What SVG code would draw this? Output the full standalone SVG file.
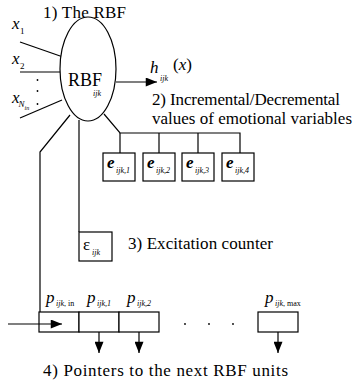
<svg xmlns="http://www.w3.org/2000/svg" width="354" height="387" viewBox="0 0 354 387">
  <defs>
    <marker id="arrow" viewBox="0 0 10 8" refX="10" refY="4" markerWidth="13" markerHeight="9" markerUnits="userSpaceOnUse" orient="auto">
      <path d="M0,0 L10,4 L0,8 Z" fill="#000"/>
    </marker>
    <style>
      text { font-family: "Liberation Serif", "Times New Roman", serif; fill: #000; }
      .lbl { font-size: 17px; }
      .big { font-size: 18px; }
      .it { font-style: italic; }
      .sub { font-size: 8px; font-style: italic; }
      .sub9 { font-size: 9px; }
      .tiny { font-size: 6px; font-style: italic; }
      .up { font-style: normal; }
      .bi { font-style: italic; font-weight: bold; }
      .box { fill: #fff; stroke: #000; stroke-width: 1.2; }
      .open { fill: none; stroke: #000; stroke-width: 1.2; }
      .wire { fill: none; stroke: #000; stroke-width: 1.2; }
    </style>
  </defs>
  <rect width="354" height="387" fill="#fff"/>

  <!-- connectors -->
  <g id="connectors" class="wire">
    <line x1="20" y1="42" x2="63" y2="57"/>
    <line x1="20" y1="72" x2="60" y2="72"/>
    <line x1="20" y1="118" x2="62" y2="100"/>
    <line x1="116" y1="82" x2="157" y2="82" marker-end="url(#arrow)"/>
    <!-- fan-out to the emotional variables -->
    <polyline points="104,114 120,133 240,133 240,153"/>
    <line x1="120" y1="133" x2="120" y2="153"/>
    <line x1="159" y1="133" x2="159" y2="153"/>
    <line x1="198" y1="133" x2="198" y2="153"/>
    <!-- excitation counter link -->
    <line x1="79" y1="120" x2="79" y2="232"/>
    <!-- pointer list link -->
    <polyline points="70,115 40,152 40,312"/>
    <line x1="8" y1="324" x2="62" y2="324" marker-end="url(#arrow)"/>
    <line x1="99" y1="324" x2="99" y2="353" marker-end="url(#arrow)"/>
    <line x1="139" y1="324" x2="139" y2="353" marker-end="url(#arrow)"/>
    <line x1="278" y1="324" x2="278" y2="353" marker-end="url(#arrow)"/>
  </g>

  <!-- inputs -->
  <g id="inputs">
    <text x="12" y="29" class="lbl it">x</text><text x="20" y="34" class="sub9 up">1</text>
    <text x="12" y="64" class="lbl it">x</text><text x="20" y="69" class="sub9 up">2</text>
    <text x="12" y="103" class="lbl it">x</text><text x="18.5" y="107" class="sub sub9">N</text><text x="24.5" y="110" class="tiny">in</text>
    <circle cx="37.5" cy="80" r="0.9"/>
    <circle cx="37.5" cy="91" r="0.9"/>
    <circle cx="37.5" cy="104" r="0.9"/>
  </g>

  <!-- RBF unit -->
  <g id="rbf">
    <text x="43" y="18" class="lbl" textLength="83" lengthAdjust="spacing">1) The RBF</text>
    <ellipse cx="88" cy="69" rx="28" ry="52" class="box"/>
    <text x="68" y="86" class="big">RBF</text>
    <text x="93" y="96" class="sub">ijk</text>
  </g>

  <!-- output -->
  <g id="output">
    <text x="150" y="73" class="lbl it">h</text>
    <text x="160" y="81" class="sub">ijk</text>
    <text x="173" y="70" class="lbl">(<tspan class="it">x</tspan>)</text>
  </g>

  <!-- emotional variables -->
  <g id="emotional">
    <text x="152" y="105" class="lbl" textLength="188" lengthAdjust="spacing">2) Incremental/Decremental</text>
    <text x="152" y="123.5" class="lbl" textLength="200" lengthAdjust="spacing">values of emotional variables</text>
  </g>
  <g id="e1">
    <rect x="103" y="153" width="32" height="28" class="box"/>
    <text x="107" y="168" class="lbl bi">e</text><text x="116" y="173" class="sub">ijk,1</text>
  </g>
  <g id="e2">
    <rect x="143" y="153" width="32" height="28" class="box"/>
    <text x="147" y="168" class="lbl bi">e</text><text x="156" y="173" class="sub">ijk,2</text>
  </g>
  <g id="e3">
    <rect x="182" y="153" width="32" height="28" class="box"/>
    <text x="186" y="168" class="lbl bi">e</text><text x="195" y="173" class="sub">ijk,3</text>
  </g>
  <g id="e4">
    <rect x="222" y="153" width="32" height="28" class="box"/>
    <text x="226" y="168" class="lbl bi">e</text><text x="235" y="173" class="sub">ijk,4</text>
  </g>

  <!-- excitation counter -->
  <g id="counter">
    <rect x="79" y="232" width="33" height="29" class="box"/>
    <text x="83" y="250" class="lbl">ε</text>
    <text x="92" y="255" class="sub">ijk</text>
    <text x="128" y="249" class="lbl" textLength="145" lengthAdjust="spacing">3) Excitation counter</text>
  </g>

  <!-- pointer list -->
  <g id="pointers">
    <rect x="39" y="312" width="40" height="20" class="open"/>
    <rect x="79" y="312" width="40" height="20" class="box"/>
    <rect x="119" y="312" width="40" height="20" class="box"/>
    <rect x="258" y="312" width="40" height="20" class="box"/>
    <text x="46" y="303" class="lbl it">p</text><text x="56" y="306" class="sub">ijk<tspan class="up">, in</tspan></text>
    <text x="87" y="303" class="lbl it">p</text><text x="97" y="306" class="sub">ijk,1</text>
    <text x="127" y="303" class="lbl it">p</text><text x="137" y="306" class="sub">ijk,2</text>
    <text x="265" y="303" class="lbl it">p</text><text x="275" y="306" class="sub">ijk<tspan class="up">, max</tspan></text>
    <circle cx="185" cy="324" r="0.9"/>
    <circle cx="209" cy="324" r="0.9"/>
    <circle cx="233" cy="324" r="0.9"/>
    <text x="43" y="376" class="lbl" textLength="245" lengthAdjust="spacing">4) Pointers to the next RBF units</text>
  </g>
</svg>
